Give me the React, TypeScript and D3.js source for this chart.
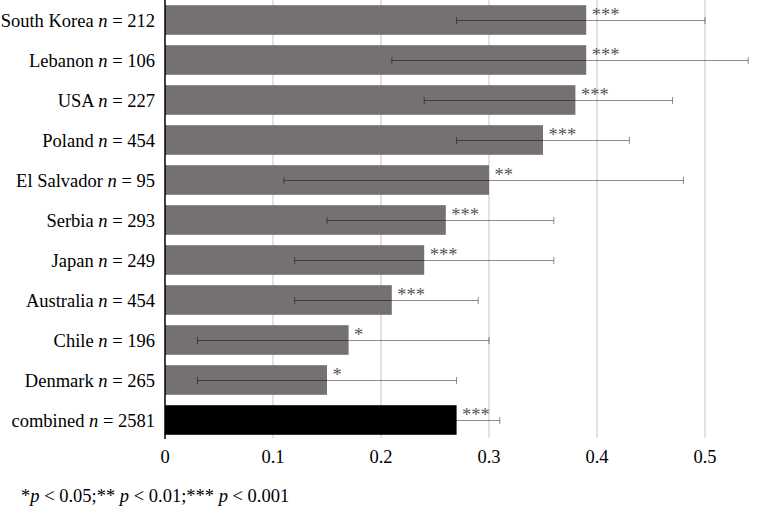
import React from "react";
import * as d3 from "d3";

const countries = ["South Korea", "Lebanon", "USA", "Poland", "El Salvador", "Serbia", "Japan", "Australia", "Chile", "Denmark", "combined"];
const sampleSizes = [212, 106, 227, 454, 95, 293, 249, 454, 196, 265, 2581];
const values = [0.39, 0.39, 0.38, 0.35, 0.30, 0.26, 0.24, 0.21, 0.17, 0.15, 0.27];
const lowerCI = [0.27, 0.21, 0.24, 0.27, 0.11, 0.15, 0.12, 0.12, 0.03, 0.03, 0.25];
const upperCI = [0.50, 0.54, 0.47, 0.43, 0.48, 0.36, 0.36, 0.29, 0.30, 0.27, 0.31];
const stars = ["***", "***", "***", "***", "**", "***", "***", "***", "*", "*", "***"];
const xTicks = [0, 0.1, 0.2, 0.3, 0.4, 0.5];

const W = 759;
const H = 507;
const FONT = "Liberation Serif";
const FS = 18.5;
const tStyle = { fontFamily: FONT };

export default function App() {
  const x = d3.scaleLinear().domain([0, 0.55]).range([165, 759]);
  const y = d3.scaleBand<string>().domain(countries).range([0, 440]).paddingInner(0.26).paddingOuter(0.13);
  const bh = y.bandwidth();
  const axisBottom = 438;

  return (
    <svg width={W} height={H} style={{ position: "absolute", left: 0, top: 0, background: "#fff" }}>
      {xTicks.filter((t) => t > 0).map((t) => (
        <line key={"g" + t} x1={x(t)} x2={x(t)} y1={0} y2={axisBottom} stroke="#d9d9d9" strokeWidth={1.5} />
      ))}
      {countries.map((c, i) => {
        const y0 = y(c)!;
        const cy = y0 + bh / 2;
        return (
          <g key={c}>
            <rect x={x(0)} y={y0} width={x(values[i]) - x(0)} height={bh} fill={i === countries.length - 1 ? "#000" : "#767171"} />
            <line x1={x(lowerCI[i])} x2={x(upperCI[i])} y1={cy + 0.5} y2={cy + 0.5} stroke="#000" strokeOpacity={0.45} strokeWidth={1} />
            <line x1={x(lowerCI[i])} x2={x(lowerCI[i])} y1={cy - 3} y2={cy + 4} stroke="#000" strokeOpacity={0.45} strokeWidth={1} />
            <line x1={x(upperCI[i])} x2={x(upperCI[i])} y1={cy - 3} y2={cy + 4} stroke="#000" strokeOpacity={0.45} strokeWidth={1} />
            <text x={x(values[i]) + 5.5} y={cy + 1} fontSize={FS} fill="#555" style={tStyle}>{stars[i]}</text>
            <text x={155} y={cy + 7} fontSize={FS} textAnchor="end" fill="#000" style={tStyle}>
              {c} <tspan fontStyle="italic">n</tspan> = {sampleSizes[i]}
            </text>
          </g>
        );
      })}
      <line x1={x(0)} x2={x(0)} y1={0} y2={axisBottom + 1} stroke="#000" strokeWidth={1.5} />
      {xTicks.map((t) => (
        <text key={"t" + t} x={x(t)} y={463} fontSize={FS} textAnchor="middle" fill="#000" style={tStyle}>{d3.format("")(t)}</text>
      ))}
      <text x={21} y={501.5} fontSize={FS} fill="#000" style={tStyle}>
        *<tspan fontStyle="italic">p</tspan> &lt; 0.05;** <tspan fontStyle="italic">p</tspan> &lt; 0.01;*** <tspan fontStyle="italic">p</tspan> &lt; 0.001
      </text>
    </svg>
  );
}
